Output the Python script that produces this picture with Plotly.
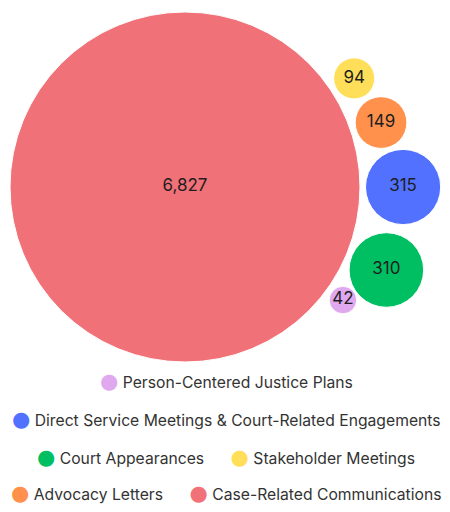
import math
import plotly.graph_objects as go

# ---- data ----
categories = [
    "Person-Centered Justice Plans",
    "Direct Service Meetings & Court-Related Engagements",
    "Court Appearances",
    "Stakeholder Meetings",
    "Advocacy Letters",
    "Case-Related Communications",
]
values = [42, 315, 310, 94, 149, 6827]
colors = ["#E0A8EE", "#5271FF", "#00BF63", "#FFDE59", "#FF914D", "#F07178"]

# ---- layout parameters ----
# angle (deg) of each small bubble around the big one (None = the big center bubble)
angles = [-35.6, 0.0, -22.4, 32.7, 18.2, None]
legend_rows = [1, 2, 3, 3, 4, 4]
legend_row_y = {1: 0.2480, 2: 0.1714, 3: 0.0948, 4: 0.0222}
RADIUS_SCALE = 175 / math.sqrt(6827)  # px per sqrt(value)
GAP = 5.5

# page body has an 8px margin, so the figure is sized to fit the window
W, H = 434, 496
CX_PX, CY_PX = 177, 179  # big bubble center position in the figure (pixels)

radii = [RADIUS_SCALE * math.sqrt(v) for v in values]
big_i = values.index(max(values))
R = radii[big_i]

centers = []
for a, r in zip(angles, radii):
    if a is None:
        centers.append((0.0, 0.0))
    else:
        d = R + r + GAP
        centers.append((d * math.cos(math.radians(a)), d * math.sin(math.radians(a))))

fig = go.Figure()
shapes = []
for (cx, cy), r, c in zip(centers, radii, colors):
    shapes.append(dict(type="circle", xref="x", yref="y",
                       x0=cx - r, x1=cx + r, y0=cy - r, y1=cy + r,
                       fillcolor=c, line=dict(color="white", width=1), layer="below"))

# value labels
fig.add_trace(go.Scatter(
    x=[c[0] for c in centers], y=[c[1] for c in centers],
    mode="text", text=[f"{v:,}" for v in values],
    textfont=dict(family="Inter", size=17, color="#1E1E1E"),
    showlegend=False, hoverinfo="skip"))

# legend rows (centered), built from the category data
annotations = []
for row, y in legend_row_y.items():
    items = []
    for name, col, rr in zip(categories, colors, legend_rows):
        if rr == row:
            items.append(
                f"<span style='color:{col};font-size:21px;font-family:DejaVu Sans'>●</span>"
                f"&nbsp;{name}")
    annotations.append(dict(
        xref="paper", yref="paper", x=0.503, y=y, xanchor="center", yanchor="middle",
        showarrow=False, text="&nbsp;&nbsp;&nbsp;&nbsp;&nbsp;&nbsp;".join(items),
        font=dict(family="Inter", size=15.7, color="#333333")))

fig.update_layout(
    width=W, height=H,
    margin=dict(l=0, r=0, t=0, b=0),
    paper_bgcolor="white", plot_bgcolor="white",
    shapes=shapes,
    annotations=annotations,
    showlegend=False,
    xaxis=dict(range=[-CX_PX, W - CX_PX], visible=False, fixedrange=True),
    yaxis=dict(range=[CY_PX - H, CY_PX], visible=False, fixedrange=True),
    hovermode=False,
)

fig.write_html("out.html")
